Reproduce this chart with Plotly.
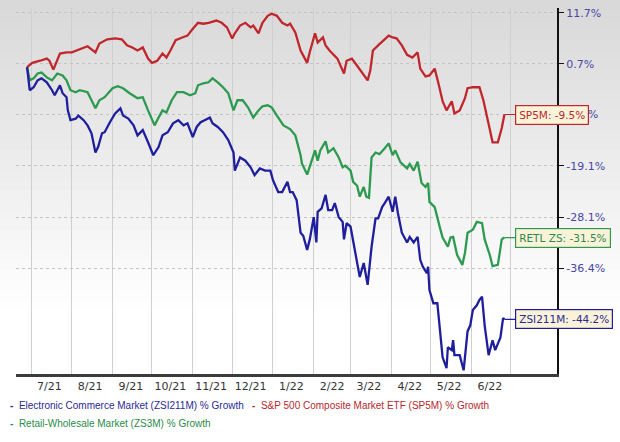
import math
import plotly.graph_objects as go

# ---------------- data (percent growth since start) ----------------
sp5m_dates = ["2021-06-28","2021-07-02","2021-07-08","2021-07-13","2021-07-15","2021-07-18","2021-07-23","2021-07-28",
    "2021-08-01","2021-08-07","2021-08-13","2021-08-19","2021-08-22","2021-08-28","2021-09-03","2021-09-08",
    "2021-09-12","2021-09-16","2021-09-20","2021-09-24","2021-09-28","2021-10-01","2021-10-05","2021-10-09",
    "2021-10-12","2021-10-15","2021-10-19","2021-10-24","2021-10-28","2021-10-31","2021-11-05","2021-11-09",
    "2021-11-13","2021-11-19","2021-11-23","2021-11-27","2021-12-01","2021-12-03","2021-12-07","2021-12-11",
    "2021-12-15","2021-12-17","2021-12-21","2021-12-24","2021-12-28","2021-12-31","2022-01-04","2022-01-08",
    "2022-01-12","2022-01-14","2022-01-18","2022-01-22","2022-01-27","2022-01-29","2022-02-02","2022-02-04",
    "2022-02-08","2022-02-10","2022-02-13","2022-02-19","2022-02-24","2022-02-26","2022-03-02","2022-03-06",
    "2022-03-10","2022-03-14","2022-03-16","2022-03-18","2022-03-22","2022-03-26","2022-03-30","2022-04-02",
    "2022-04-05","2022-04-09","2022-04-13","2022-04-17","2022-04-21","2022-04-23","2022-04-27","2022-04-30",
    "2022-05-04","2022-05-07","2022-05-10","2022-05-13","2022-05-17","2022-05-19","2022-05-23","2022-05-27",
    "2022-05-29","2022-06-02","2022-06-07","2022-06-10","2022-06-13","2022-06-15","2022-06-17","2022-06-21",
    "2022-06-24","2022-06-26"]
sp5m_pct = [0, 0.9, 1.35, 1.8, 1.35, -0.5, 2.86, 3.1,
    3.1, 3.7, 4.4, 3.1, 5.0, 5.9, 6.1, 5.9,
    4.6, 4.15, 3.5, 4.15, 1.8, 0.9, 1.35, 2.86,
    2.0, 3.5, 5.7, 6.3, 6.7, 7.8, 9.5, 9.3,
    9.5, 10.0, 9.5, 8.5, 6.1, 7.2, 8.9, 9.5,
    8.5, 8.9, 7.2, 9.5, 11.05, 11.5, 11.05, 9.5,
    8.9, 9.3, 7.4, 3.5, 0.9, 3.2, 7.2, 5.2,
    6.3, 4.6, 3.5, 1.8, -1.3, 1.35, 1.8, 0.3,
    -1.1, -2.7, -0.7, 3.5, 4.6, 5.7, 6.7, 6.3,
    6.1, 4.6, 2.6, 2.0, 3.1, -0.3, -1.9, -1.7,
    -0.3, -3.5, -6.9, -8.7, -6.9, -9.3, -8.7, -6.3,
    -4.3, -4.1, -4.1, -6.7, -10.6, -12.5, -14.8, -14.8,
    -12.1, -9.5]

retl_dates = ["2021-06-28","2021-06-30","2021-07-03","2021-07-06","2021-07-09","2021-07-13","2021-07-17","2021-07-21",
    "2021-07-25","2021-07-28","2021-07-31","2021-08-04","2021-08-07","2021-08-13","2021-08-16","2021-08-19",
    "2021-08-22","2021-08-26","2021-09-01","2021-09-05","2021-09-09","2021-09-14","2021-09-20","2021-09-24",
    "2021-09-28","2021-10-03","2021-10-06","2021-10-09","2021-10-12","2021-10-16","2021-10-20","2021-10-25",
    "2021-10-30","2021-11-03","2021-11-05","2021-11-09","2021-11-13","2021-11-16","2021-11-20","2021-11-24",
    "2021-11-28","2021-12-02","2021-12-05","2021-12-09","2021-12-13","2021-12-17","2021-12-21","2021-12-24",
    "2021-12-28","2021-12-31","2022-01-04","2022-01-09","2022-01-14","2022-01-18","2022-01-22","2022-01-23",
    "2022-01-27","2022-01-31","2022-02-02","2022-02-04","2022-02-06","2022-02-10","2022-02-12","2022-02-16",
    "2022-02-20","2022-02-23","2022-02-25","2022-03-01","2022-03-03","2022-03-06","2022-03-08","2022-03-11",
    "2022-03-13","2022-03-15","2022-03-17","2022-03-20","2022-03-23","2022-03-27","2022-03-30","2022-04-02",
    "2022-04-04","2022-04-08","2022-04-13","2022-04-15","2022-04-18","2022-04-21","2022-04-24","2022-04-27",
    "2022-04-29","2022-04-30","2022-05-04","2022-05-08","2022-05-10","2022-05-14","2022-05-16","2022-05-18",
    "2022-05-21","2022-05-25","2022-05-27","2022-05-29","2022-06-02","2022-06-05","2022-06-09","2022-06-11",
    "2022-06-15","2022-06-17","2022-06-21","2022-06-24","2022-06-26"]
retl_pct = [0, -2.7, -2.3, -1.3, -1.1, -2.1, -2.7, -1.3,
    -1.7, -2.7, -4.7, -5.1, -4.7, -5.1, -6.7, -8.3,
    -6.7, -6.1, -4.3, -3.9, -4.3, -5.3, -6.3, -6.1,
    -8.7, -11.6, -10.1, -8.7, -9.1, -6.7, -5.1, -5.1,
    -5.7, -5.3, -3.7, -3.3, -3.1, -2.3, -3.1, -4.1,
    -5.3, -8.7, -6.7, -6.7, -8.1, -10.1, -8.7, -7.9,
    -7.7, -8.1, -9.7, -11.6, -12.3, -13.5, -17.2, -18.7,
    -20.7, -17.6, -16.3, -18.2, -16.3, -14.6, -16.7, -15.9,
    -17.6, -19.4, -19.1, -20.0, -22.0, -22.7, -24.6, -22.9,
    -24.6, -24.8, -17.6, -16.7, -17.0, -15.9, -15.0, -17.2,
    -16.3, -18.5, -19.6, -18.8, -20.0, -18.4, -22.2, -22.9,
    -22.2, -25.5, -26.4, -29.9, -31.5, -33.0, -31.5, -31.4,
    -34.3, -35.9, -34.0, -30.7, -30.2, -28.9, -29.1, -31.8,
    -34.4, -36.1, -35.9, -31.8, -31.5]

zsi_dates = ["2021-06-28","2021-06-30","2021-07-03","2021-07-06","2021-07-09","2021-07-13","2021-07-17","2021-07-19",
    "2021-07-23","2021-07-25","2021-07-28","2021-07-29","2021-07-31","2021-08-04","2021-08-06","2021-08-10",
    "2021-08-13","2021-08-16","2021-08-19","2021-08-21","2021-08-24","2021-08-26","2021-08-30","2021-09-03",
    "2021-09-07","2021-09-09","2021-09-13","2021-09-17","2021-09-20","2021-09-24","2021-09-28","2021-10-02",
    "2021-10-06","2021-10-09","2021-10-13","2021-10-17","2021-10-21","2021-10-25","2021-10-28","2021-11-01",
    "2021-11-04","2021-11-07","2021-11-10","2021-11-14","2021-11-16","2021-11-20","2021-11-24","2021-11-28",
    "2021-12-02","2021-12-03","2021-12-07","2021-12-11","2021-12-15","2021-12-18","2021-12-22","2021-12-26",
    "2021-12-30","2022-01-01","2022-01-05","2022-01-08","2022-01-12","2022-01-14","2022-01-16","2022-01-19",
    "2022-01-22","2022-01-24","2022-01-27","2022-01-29","2022-02-01","2022-02-03","2022-02-04","2022-02-07",
    "2022-02-10","2022-02-12","2022-02-15","2022-02-17","2022-02-20","2022-02-23","2022-02-24","2022-02-26",
    "2022-03-01","2022-03-04","2022-03-08","2022-03-11","2022-03-14","2022-03-17","2022-03-20","2022-03-22",
    "2022-03-25","2022-03-27","2022-03-30","2022-04-02","2022-04-04","2022-04-06","2022-04-09","2022-04-13",
    "2022-04-15","2022-04-18","2022-04-21","2022-04-23","2022-04-25","2022-04-28","2022-04-29","2022-04-30",
    "2022-05-03","2022-05-06","2022-05-08","2022-05-10","2022-05-13","2022-05-14","2022-05-17","2022-05-18",
    "2022-05-19","2022-05-23","2022-05-26","2022-05-29","2022-05-31","2022-06-02","2022-06-05","2022-06-07",
    "2022-06-09","2022-06-11","2022-06-14","2022-06-17","2022-06-19","2022-06-23","2022-06-25","2022-06-26"]
zsi_pct = [0, -4.7, -4.1, -2.7, -2.3, -3.1, -4.7, -5.7,
    -3.7, -5.3, -6.1, -8.7, -10.6, -10.3, -9.7, -10.6,
    -11.6, -13.1, -16.7, -15.7, -13.1, -12.9, -11.0, -9.3,
    -8.3, -9.7, -10.3, -11.6, -13.5, -12.5, -14.8, -17.2,
    -15.7, -13.5, -12.9, -11.2, -10.6, -11.6, -11.2, -13.8,
    -11.9, -11.0, -10.6, -10.1, -11.2, -11.9, -12.9, -14.4,
    -16.7, -20.0, -17.6, -18.2, -19.4, -20.8, -19.6, -20.0,
    -20.0, -21.7, -23.8, -23.8, -22.0, -23.8, -23.8, -25.2,
    -30.7, -31.2, -33.5, -31.8, -28.1, -32.3, -27.2, -26.6,
    -24.3, -26.9, -26.9, -25.7, -28.1, -28.9, -31.8, -29.1,
    -29.7, -33.5, -37.8, -35.6, -39.0, -33.0, -28.3, -28.3,
    -26.4, -25.7, -24.6, -27.2, -24.6, -27.4, -30.7, -32.3,
    -31.4, -32.3, -31.4, -35.1, -36.2, -37.2, -36.2, -39.8,
    -41.8, -41.8, -45.3, -49.6, -51.1, -48.2, -48.6, -47.2,
    -49.3, -49.3, -51.4, -45.9, -45.1, -42.8, -42.1, -41.3,
    -40.8, -45.1, -49.3, -47.2, -48.6, -46.8, -44.0, -44.2]

y_tick_values = [11.7, 0.7, -9.5, -19.1, -28.1, -36.4]
y_tick_labels = ["11.7%", "0.7%", "-9.5%", "-19.1%", "-28.1%", "-36.4%"]
x_tick_dates = ["2021-07-15","2021-08-15","2021-09-15","2021-10-15","2021-11-15","2021-12-15",
                "2022-01-15","2022-02-15","2022-03-15","2022-04-15","2022-05-15","2022-06-15"]
x_tick_labels = ["7/21","8/21","9/21","10/21","11/21","12/21","1/22","2/22","3/22","4/22","5/22","6/22"]
month_starts = ["2021-07-01","2021-08-01","2021-09-01","2021-10-01","2021-11-01","2021-12-01","2022-01-01",
                "2022-02-01","2022-03-01","2022-04-01","2022-05-01","2022-06-01","2022-07-01"]

series_names = ["Electronic Commerce Market (ZSI211M) % Growth",
                "S&P 500 Composite Market ETF (SP5M) % Growth",
                "Retail-Wholesale Market (ZS3M) % Growth"]
callout_labels = ["ZSI211M: -44.2%", "SP5M: -9.5%", "RETL ZS: -31.5%"]

# The reference chart's value axis is logarithmic around this base level
AXIS_BASE = 150.4

BLUE, RED, GREEN = "#1f1f9e", "#c0272d", "#2e9a4f"
BLUE_T, RED_T, GREEN_T = "#2a2a96", "#b8282e", "#2a8a4a"

def to_axis(vals):
    return [v + AXIS_BASE for v in vals]

fig = go.Figure()
series = [
    (zsi_dates, zsi_pct, BLUE),
    (sp5m_dates, sp5m_pct, RED),
    (retl_dates, retl_pct, GREEN),
]
# draw order: red, green, blue on top
for idx in [1, 2, 0]:
    d, v, c = series[idx]
    fig.add_trace(go.Scatter(x=d, y=to_axis(v), mode="lines", name=series_names[idx],
                             line=dict(color=c, width=2.3), showlegend=False, hoverinfo="skip"))

# ---------------- layout geometry ----------------
W, H = 620, 442
ML, MR, MT, MB = 16, 63, 8, 68
plot_h = H - MT - MB
plot_w = W - ML - MR

# background vertical gradient (styling only)
shapes = []
n_bands = 32
band_px = 10
for i in range(n_bands):
    top_px = i * band_px
    bot_px = top_px + band_px
    t = min(1.0, (top_px + band_px / 2) / 310.0)
    g = int(round(0xd8 + (0xff - 0xd8) * t))
    col = f"rgb({g},{g},{g})"
    y1 = (H - MB - top_px) / plot_h
    y0 = (H - MB - bot_px) / plot_h
    shapes.append(dict(type="rect", xref="paper", yref="paper", x0=-0.1, x1=1.3, y0=y0, y1=y1,
                       fillcolor=col, line=dict(width=0), layer="below"))

annotations = []
# callouts at line ends
ends = [(zsi_dates[-1], zsi_pct[-1], BLUE, BLUE_T, callout_labels[0]),
        (sp5m_dates[-1], sp5m_pct[-1], RED, RED_T, callout_labels[1]),
        (retl_dates[-1], retl_pct[-1], GREEN, GREEN_T, callout_labels[2])]
for d, v, c, tc, txt in ends:
    annotations.append(dict(x=d, y=math.log10(v + AXIS_BASE), xref="x", yref="y",
                            text=txt, showarrow=True, arrowhead=0, arrowwidth=1.2, arrowcolor=c,
                            ax=11, ay=0, xanchor="left", yanchor="middle",
                            bgcolor="#fbf3d9", bordercolor=c, borderwidth=1.2, borderpad=3,
                            font=dict(family="DejaVu Sans", size=10.5, color=tc)))

# legend as text rows
legend_items = [
    (series_names[0], BLUE_T, 8, 405),
    (series_names[1], RED_T, 250, 405),
    (series_names[2], GREEN_T, 8, 423),
]
for name, c, xpx, ypx in legend_items:
    annotations.append(dict(xref="paper", yref="paper",
                            x=(xpx - ML) / plot_w, y=(H - MB - ypx) / plot_h,
                            xanchor="left", yanchor="middle", showarrow=False,
                            text=f"<b>-</b>  {name}".replace("&", "&amp;"),
                            font=dict(family="Liberation Sans, Arial, sans-serif", size=10, color=c)))

fig.update_layout(
    width=W, height=H,
    margin=dict(l=ML, r=MR, t=MT, b=MB),
    paper_bgcolor="white",
    plot_bgcolor="rgba(0,0,0,0)",
    shapes=shapes,
    annotations=annotations,
    showlegend=False,
    xaxis=dict(
        type="date",
        range=["2021-06-19 14:00", "2022-08-05"],
        tickmode="array", tickvals=x_tick_dates, ticktext=x_tick_labels,
        showgrid=False, ticks="", zeroline=False,
        showline=True, linecolor="#3c3c3c", linewidth=3,
        tickfont=dict(family="DejaVu Sans", size=11, color="#333333"),
        minor=dict(tickmode="array", tickvals=month_starts, showgrid=True,
                   gridcolor="#cfcfcf", gridwidth=1, ticks=""),
    ),
    yaxis=dict(
        type="log",
        range=[math.log10(-51.9 + AXIS_BASE), math.log10(12.8 + AXIS_BASE)],
        side="right",
        tickmode="array", tickvals=to_axis(y_tick_values), ticktext=y_tick_labels,
        showgrid=True, gridcolor="#c4c4c4", griddash="dot", gridwidth=1,
        zeroline=False,
        showline=True, linecolor="#111111", linewidth=2,
        ticks="outside", ticklen=5, tickcolor="#111111", tickwidth=1,
        tickfont=dict(family="DejaVu Sans", size=11, color="#4747a6"),
    ),
)

fig.write_html("out.html",
               config={"displayModeBar": False},
               post_script="document.body.style.margin='0px';document.body.style.padding='0px';")
